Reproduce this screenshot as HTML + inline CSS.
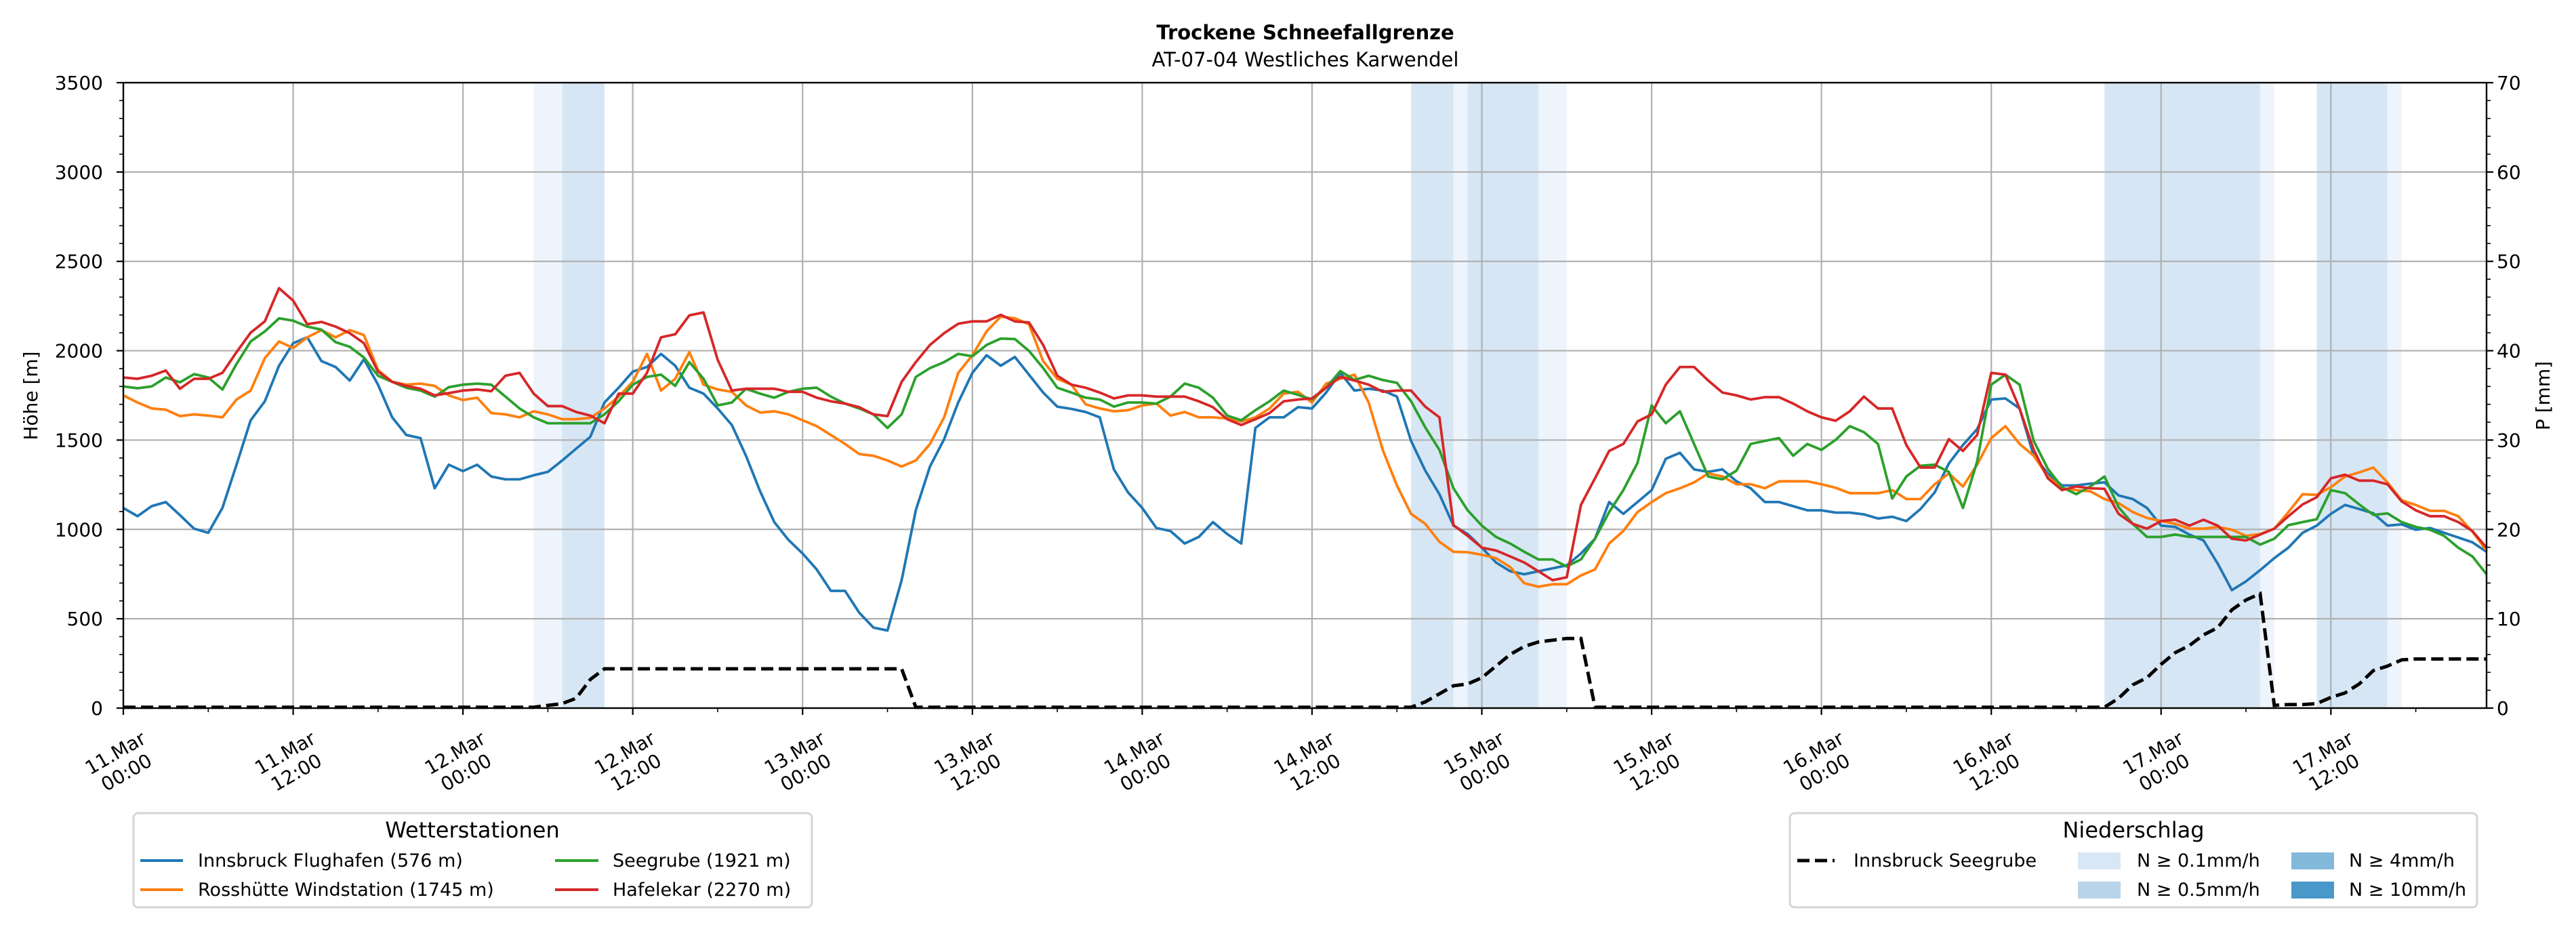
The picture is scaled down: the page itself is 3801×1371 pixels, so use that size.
<!DOCTYPE html>
<html><head><meta charset="utf-8"><style>
html,body{margin:0;padding:0;background:#fff;}
svg{display:block;font-family:"DejaVu Sans","Liberation Sans",sans-serif;}
</style></head><body>
<svg id="chart" width="3801" height="1371" viewBox="0 0 3801 1371" xmlns="http://www.w3.org/2000/svg">
<g id="bands"></g>
<g id="grid"></g>
<g id="series"></g>
<g id="axes"></g>
<text x="1926" y="58" font-size="29" font-weight="bold" text-anchor="middle">Trockene Schneefallgrenze</text>
<text x="1926" y="98" font-size="29" text-anchor="middle">AT-07-04 Westliches Karwendel</text>
<text transform="translate(55,584) rotate(-90)" font-size="28" text-anchor="middle">Höhe [m]</text>
<text transform="translate(3762,584) rotate(-90)" font-size="28" text-anchor="middle">P [mm]</text>
<g>
<rect x="197" y="1200" width="1001" height="139" rx="7" fill="#fff" stroke="#d5d5d5" stroke-width="3"/>
<text x="697" y="1236" font-size="32" text-anchor="middle">Wetterstationen</text>
<line x1="207" y1="1270" x2="270" y2="1270" stroke="#1f77b4" stroke-width="4"/>
<text x="292" y="1279" font-size="27">Innsbruck Flughafen (576 m)</text>
<line x1="207" y1="1313" x2="270" y2="1313" stroke="#ff7f0e" stroke-width="4"/>
<text x="292" y="1322" font-size="27">Rosshütte Windstation (1745 m)</text>
<line x1="819" y1="1270" x2="883" y2="1270" stroke="#2ca02c" stroke-width="4"/>
<text x="904" y="1279" font-size="27">Seegrube (1921 m)</text>
<line x1="819" y1="1313" x2="883" y2="1313" stroke="#d62728" stroke-width="4"/>
<text x="904" y="1322" font-size="27">Hafelekar (2270 m)</text>
</g>
<g>
<rect x="2641" y="1200" width="1014" height="139" rx="7" fill="#fff" stroke="#d5d5d5" stroke-width="3"/>
<text x="3148" y="1236" font-size="32" text-anchor="middle">Niederschlag</text>
<line x1="2652" y1="1270" x2="2707" y2="1270" stroke="#000" stroke-width="5" stroke-dasharray="18,8"/>
<text x="2735" y="1279" font-size="27">Innsbruck Seegrube</text>
<rect x="3066" y="1258" width="63" height="25" fill="#d8e7f5"/>
<text x="3153" y="1279" font-size="27">N ≥ 0.1mm/h</text>
<rect x="3066" y="1301" width="63" height="25" fill="#b8d4ea"/>
<text x="3153" y="1322" font-size="27">N ≥ 0.5mm/h</text>
<rect x="3381" y="1258" width="63" height="25" fill="#82b8da"/>
<text x="3466" y="1279" font-size="27">N ≥ 4mm/h</text>
<rect x="3381" y="1301" width="63" height="25" fill="#4a98c9"/>
<text x="3466" y="1322" font-size="27">N ≥ 10mm/h</text>
</g>
</svg>
<script>
const innsbruck=[1120,1074,1130,1153,1080,1004,981,1120,1362,1611,1717,1916,2042,2075,1942,1909,1833,1952,1810,1627,1528,1511,1230,1362,1326,1362,1296,1280,1280,1303,1322,1385,1452,1518,1710,1793,1883,1909,1982,1916,1793,1760,1677,1584,1412,1213,1041,941,865,776,656,656,534,451,
434,716,1107,1352,1505,1710,1876,1975,1916,1965,1866,1766,1687,1674,1657,1627,1336,1207,1120,1008,991,921,958,1041,974,921,1568,1627,1627,1684,1677,1766,1876,1777,1787,1777,1743,1495,1329,1197,1021,974,898,815,766,749,766,782,799,865,948,1153,1087,1153,1220,1395,1429,1336,1322,1336,
1269,1230,1153,1153,1130,1107,1107,1094,1094,1084,1061,1071,1047,1114,1207,1369,1472,1561,1727,1733,1677,1412,1313,1246,1246,1256,1263,1190,1170,1120,1021,1014,971,938,809,660,709,772,839,898,981,1021,1087,1137,1114,1090,1021,1028,998,1008,981,955,928,875];
const rosshuette=[1750,1710,1677,1670,1634,1644,1637,1627,1727,1777,1959,2052,2015,2075,2115,2075,2115,2088,1892,1826,1810,1816,1803,1750,1724,1737,1651,1644,1627,1661,1644,1617,1617,1624,1677,1743,1826,1982,1777,1843,1992,1810,1783,1770,1694,1654,1661,1644,1611,1578,1528,1478,1422,1412,
1386,1352,1386,1478,1627,1876,1975,2108,2191,2181,2148,1942,1843,1810,1700,1677,1661,1667,1694,1704,1637,1657,1627,1627,1621,1604,1627,1677,1760,1770,1710,1816,1843,1866,1710,1445,1246,1087,1031,931,875,872,858,839,789,699,679,693,693,742,776,921,991,1097,1153,1203,1230,1263,1313,1296,
1253,1253,1230,1269,1269,1269,1253,1233,1203,1203,1203,1220,1170,1170,1253,1313,1240,1362,1511,1578,1478,1412,1296,1230,1220,1213,1170,1147,1097,1064,1047,1031,1004,1004,1014,998,964,974,1004,1097,1197,1193,1236,1296,1319,1346,1263,1163,1137,1104,1104,1074,988,882];
const seegrube=[1800,1790,1800,1850,1823,1869,1850,1783,1926,2052,2108,2181,2168,2135,2118,2048,2022,1962,1860,1826,1793,1777,1743,1796,1810,1816,1810,1743,1677,1627,1594,1594,1594,1594,1644,1717,1810,1853,1866,1803,1936,1843,1694,1710,1787,1760,1737,1770,1787,1793,1743,1704,
1677,1644,1568,
1644,1853,1903,1936,1982,1969,2032,2068,2065,1999,1903,1793,1766,1737,1727,1687,1710,1710,1704,1743,1816,1793,1737,1637,1611,1667,1717,1777,1753,1727,1793,1886,1836,1860,1836,1820,1717,1571,1445,1230,1107,1021,958,921,875,832,832,792,832,948,1097,1220,1372,1694,1594,1661,1478,1296,1280,
1329,1478,1495,1511,1412,1478,1445,1501,1578,1544,1478,1173,1296,1356,1362,1322,1120,1379,1810,1866,1810,1495,1339,1236,1197,1240,1296,1124,1031,958,958,971,958,958,958,958,958,915,948,1024,1041,1057,1220,1203,1140,1081,1090,1041,1014,998,964,898,849,749];
const hafelekar=[1850,1843,1860,1889,1787,1843,1843,1876,1992,2101,2164,2350,2280,2148,2161,2135,2098,2042,1883,1826,1803,1787,1750,1763,1777,1783,1773,1860,1876,1760,1690,1690,1657,1637,1594,1760,1760,1876,2075,2092,2198,2214,1949,1777,1787,1787,1787,1770,1770,1737,1717,1704,1684,1644,
1634,1826,1936,2032,2098,2151,2164,2164,2201,2164,2158,2032,1860,1810,1793,1766,1733,1750,1750,1743,1743,1743,1717,1684,1617,1584,1617,1651,1717,1727,1733,1793,1853,1833,1810,1770,1777,1777,1687,1627,1024,964,898,882,849,815,766,716,732,1137,1286,1439,1478,1604,1644,1810,1909,1909,1833,1766,
1750,1727,1740,1740,1704,1661,1627,1608,1661,1743,1677,1677,1472,1346,1346,1505,1439,1528,1876,1866,1677,1445,1286,1220,1240,1230,1227,1087,1031,1004,1047,1054,1021,1054,1021,948,938,971,1004,1074,1140,1180,1286,1306,1273,1273,1253,1157,1107,1074,1074,1041,991,898];
const precip=[0.1,0.1,0.1,0.1,0.1,0.1,0.1,0.1,0.1,0.1,0.1,0.1,0.1,0.1,0.1,0.1,0.1,0.1,0.1,0.1,0.1,0.1,0.1,0.1,0.1,0.1,0.1,0.1,0.1,0.1,
0.3,0.5,1.1,3.2,
4.4,4.4,4.4,4.4,4.4,4.4,4.4,4.4,4.4,4.4,4.4,4.4,4.4,4.4,4.4,4.4,4.4,4.4,4.4,4.4,4.4,4.4,
0.1,0.1,0.1,0.1,0.1,0.1,0.1,0.1,0.1,0.1,0.1,0.1,0.1,0.1,0.1,0.1,0.1,0.1,0.1,0.1,0.1,0.1,0.1,0.1,0.1,0.1,0.1,0.1,0.1,0.1,0.1,0.1,0.1,0.1,0.1,
0.1,0.7,1.6,2.5,2.7,3.4,4.7,6.0,6.9,7.4,7.6,7.8,7.8,
0.1,0.1,0.1,0.1,0.1,0.1,0.1,0.1,0.1,0.1,0.1,0.1,0.1,0.1,0.1,0.1,0.1,0.1,0.1,0.1,0.1,0.1,0.1,0.1,0.1,0.1,0.1,0.1,0.1,0.1,0.1,0.1,0.1,0.1,0.1,0.1,0.1,
1.1,2.6,3.4,4.9,6.2,7.0,8.2,9.0,11.0,12.1,12.8,
0.3,0.4,0.4,0.5,1.2,1.7,2.7,4.2,4.7,5.4,
5.5,5.5,5.5,5.5,5.5,5.5];
const bandStart=[29,31,91,94,95,100,140,151,155,160];
const bandEnd=[31,34,94,95,100,102,151,152,160,161];
const bandLevel=[0,1,1,0,1,0,1,0,1,0];
const xTickHours=[0,12,24,36,48,60,72,84,96,108,120,132,144,156];
const xTickDays=["11.Mar","11.Mar","12.Mar","12.Mar","13.Mar","13.Mar","14.Mar","14.Mar","15.Mar","15.Mar","16.Mar","16.Mar","17.Mar","17.Mar"];
const xTickTimes=["00:00","12:00","00:00","12:00","00:00","12:00","00:00","12:00","00:00","12:00","00:00","12:00","00:00","12:00"];
const yTicks=[0,500,1000,1500,2000,2500,3000,3500];
const pTicks=[0,10,20,30,40,50,60,70];

const L=182,R=3669,T=122,B=1045,HMAX=167;
const NS="http://www.w3.org/2000/svg";
function xs(h){return L+h*(R-L)/HMAX;}
function ys(v){return B-v/3500*(B-T);}
function ps(p){return B-p/70*(B-T);}
function mk(parent,tag,attrs){const e=document.createElementNS(NS,tag);for(const k in attrs)e.setAttribute(k,attrs[k]);parent.appendChild(e);return e;}
const gB=document.getElementById('bands'),gG=document.getElementById('grid'),gS=document.getElementById('series'),gA=document.getElementById('axes');
const bandColors=['#eef4fb','#d7e6f4'];
for(let i=0;i<bandStart.length;i++){
  const r=mk(gB,'rect',{x:xs(bandStart[i]),y:T,width:xs(bandEnd[i])-xs(bandStart[i]),height:B-T,fill:bandColors[bandLevel[i]]});
  
  
}
xTickHours.forEach(h=>{if(h>0){const l=mk(gG,'line',{x1:xs(h),x2:xs(h),y1:T,y2:B,stroke:'#b0b0b0','stroke-width':2.2});
  
  }});
yTicks.forEach(v=>{if(v>0&&v<3500){const l=mk(gG,'line',{x1:L,x2:R,y1:ys(v),y2:ys(v),stroke:'#b0b0b0','stroke-width':2.2});
  
  }});
function path(vals,scale){return vals.map((v,i)=>(i?'L':'M')+xs(i).toFixed(1)+','+scale(v).toFixed(1)).join('');}
const series=[[innsbruck,'#1f77b4','line-innsbruck'],[rosshuette,'#ff7f0e','line-rosshuette'],[seegrube,'#2ca02c','line-seegrube'],[hafelekar,'#d62728','line-hafelekar']];
series.forEach(s=>{const p=mk(gS,'path',{d:path(s[0],ys),fill:'none',stroke:s[1],'stroke-width':3.8,'stroke-linejoin':'round'});
  
  });
const pp=mk(gS,'path',{d:path(precip,ps),fill:'none',stroke:'#000','stroke-width':5,'stroke-dasharray':'18,8'});


// spines
const fr=mk(gA,'rect',{x:L,y:T,width:R-L,height:B-T,fill:'none',stroke:'#000','stroke-width':2.4});


// y ticks
for(let v=0;v<=3500;v+=100){const maj=v%500===0;mk(gA,'line',{x1:L,x2:L-(maj?10:6),y1:ys(v),y2:ys(v),stroke:'#000','stroke-width':maj?2.2:1.6});}
yTicks.forEach(v=>{const t=mk(gA,'text',{x:152,y:ys(v)+10,'font-size':28,'text-anchor':'end'});t.textContent=v;
  
  });
for(let p=0;p<=70;p+=2){const maj=p%10===0;mk(gA,'line',{x1:R,x2:R+(maj?10:6),y1:ps(p),y2:ps(p),stroke:'#000','stroke-width':maj?2.2:1.6});}
pTicks.forEach(p=>{const t=mk(gA,'text',{x:3684,y:ps(p)+10,'font-size':28,'text-anchor':'start'});t.textContent=p;
  
  });
for(let h=0;h<=HMAX;h+=6){const maj=h%12===0;mk(gA,'line',{x1:xs(h),x2:xs(h),y1:B,y2:B+(maj?10:6),stroke:'#000','stroke-width':maj?2.2:1.6});}
xTickHours.forEach((h,i)=>{const g=mk(gA,'g',{transform:'translate('+(xs(h)-4)+',1125) rotate(-30)'});
  
  
  const a=mk(g,'text',{x:0,y:-6,'font-size':28,'text-anchor':'middle'});a.textContent=xTickDays[i];
  const b=mk(g,'text',{x:0,y:27,'font-size':28,'text-anchor':'middle'});b.textContent=xTickTimes[i];});
</script>
</body></html>
